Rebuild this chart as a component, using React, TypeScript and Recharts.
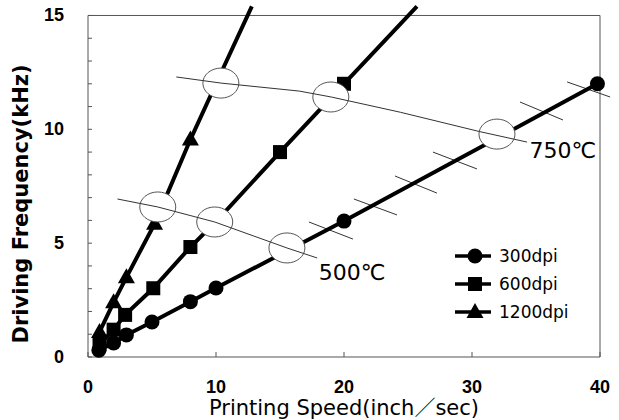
import React from 'react';
import {
  ComposedChart,
  Scatter,
  XAxis,
  YAxis,
  ReferenceArea,
  ReferenceLine,
  Legend,
} from 'recharts';

// ---- data ----
const speed300 = [0.85, 2, 3, 5, 8, 10, 20, 39.8];
const freq300 = [0.3, 0.62, 0.97, 1.54, 2.43, 3.03, 5.97, 12.0];

const speed600 = [0.9, 2, 2.9, 5.1, 8, 10, 15, 20, 25.7];
const freq600 = [0.55, 1.2, 1.85, 3.02, 4.83, 5.95, 9.0, 12.0, 15.4];

const speed1200 = [0.9, 2, 3, 5.2, 8, 10, 12.8];
const freq1200 = [1.1, 2.4, 3.5, 5.85, 9.55, 12.0, 15.4];

const seriesNames = ['300dpi', '600dpi', '1200dpi'];

const xTicks = [0, 10, 20, 30, 40];
const yTicks = [0, 1, 2, 3, 4, 5, 6, 7, 8, 9, 10, 11, 12, 13, 14, 15];
const yLabelTicks = [0, 5, 10, 15];

// isotherm curves
const iso500Speed = [2.3, 5.45, 9.9, 15.54, 17.9];
const iso500Freq = [6.94, 6.59, 5.93, 4.79, 4.35];
const iso750Speed = [6.9, 10.4, 16.5, 19.0, 24.4, 30.6, 34.3];
const iso750Freq = [12.3, 12.03, 11.68, 11.42, 10.75, 9.9, 9.44];

// ellipse marks (intersection highlights)
const ringSpeed = [5.45, 9.9, 15.54, 10.38, 18.97, 31.95];
const ringFreq = [6.59, 5.93, 4.79, 12.03, 11.42, 9.79];

// short hatch segments crossing the 300dpi line
const hatchX1 = [17.26, 20.77, 23.98, 26.95, 33.75, 37.43];
const hatchY1 = [5.93, 6.94, 7.95, 9.0, 11.2, 12.08];
const hatchX2 = [20.7, 24.14, 27.26, 30.39, 37.11, 40.79];
const hatchY2 = [5.18, 6.24, 7.2, 8.26, 10.41, 11.42];

// temperature labels
const tempLabels = ['500℃', '750℃'];
const tempLabelSpeed = [18.02, 34.5];
const tempLabelFreq = [3.73, 9.09];

const xTitle = 'Printing Speed(inch／sec)';
const yTitle = 'Driving Frequency(kHz)';

// ---- helpers ----
const pts = (xs: number[], ys: number[]) => xs.map((x, i) => ({ x, y: ys[i] }));

const data300 = pts(speed300, freq300);
const data600 = pts(speed600, freq600);
const data1200 = pts(speed1200, freq1200);
const iso500 = pts(iso500Speed, iso500Freq);
const iso750 = pts(iso750Speed, iso750Freq);
const rings = pts(ringSpeed, ringFreq);
const labelsData = tempLabels.map((t, i) => ({ x: tempLabelSpeed[i], y: tempLabelFreq[i], label: t }));

const SANS = '"DejaVu Sans", "Noto Sans CJK JP", sans-serif';
const TICKFONT = '"Liberation Sans", Arial, sans-serif';

type Kind = 'circle' | 'square' | 'triangle';
const seriesKinds: Kind[] = ['circle', 'square', 'triangle'];
const seriesData = [data300, data600, data1200];

const Marker = ({ kind, cx, cy }: { kind: Kind; cx: number; cy: number }) => {
  if (kind === 'circle') return <circle cx={cx} cy={cy} r={7.5} fill="#000" />;
  if (kind === 'square') return <rect x={cx - 7} y={cy - 7} width={14} height={14} fill="#000" />;
  return <polygon points={`${cx},${cy - 9} ${cx - 8.5},${cy + 6} ${cx + 8.5},${cy + 6}`} fill="#000" />;
};

const makeShape = (kind: Kind) => (props: any) => {
  const { cx, cy, payload } = props;
  if (cx == null || cy == null || (payload && payload.y > 15)) return <g />;
  return <Marker kind={kind} cx={cx} cy={cy} />;
};

const XTick = (props: any) => {
  const { x, y, payload } = props;
  return (
    <g>
      <line x1={x} x2={x} y1={y} y2={y - 5} stroke="#555" strokeWidth={1} />
      <text
        x={x}
        y={y + 30}
        textAnchor="middle"
        dominantBaseline="central"
        fontFamily={TICKFONT}
        fontWeight="bold"
        fontSize={18}
        fill="#000"
      >
        {payload.value}
      </text>
    </g>
  );
};

const YTick = (props: any) => {
  const { x, y, payload } = props;
  const show = yLabelTicks.includes(payload.value);
  return (
    <g>
      <line x1={x} x2={x + 4} y1={y} y2={y} stroke="#555" strokeWidth={1} />
      {show && (
        <text
          x={x - 24}
          y={y}
          textAnchor="end"
          dominantBaseline="central"
          fontFamily={TICKFONT}
          fontWeight="bold"
          fontSize={18}
          fill="#000"
        >
          {payload.value}
        </text>
      )}
    </g>
  );
};

const RingShape = (props: any) => {
  const { cx, cy } = props;
  return <ellipse cx={cx} cy={cy} rx={18} ry={15} fill="#fff" stroke="#555" strokeWidth={1} />;
};

const NoShape = () => <g />;

const TextShape = (props: any) => {
  const { cx, cy, payload } = props;
  return (
    <text x={cx} y={cy} dominantBaseline="central" fontFamily={SANS} fontSize={22} fill="#000">
      {payload.label}
    </text>
  );
};

const renderLegend = () => (
  <div style={{ fontFamily: SANS, fontSize: 17, color: '#000' }}>
    {seriesNames.map((n, i) => (
      <div key={n} style={{ display: 'flex', alignItems: 'center', height: 28 }}>
        <svg width={36} height={28}>
          <line x1={0} x2={36} y1={14} y2={14} stroke="#000" strokeWidth={3.5} />
          <Marker kind={seriesKinds[i]} cx={20} cy={14} />
        </svg>
        <span style={{ marginLeft: 8 }}>{n}</span>
      </div>
    ))}
  </div>
);

const XTitle = (props: any) => {
  const vb = props.viewBox || {};
  return (
    <text
      x={vb.x + vb.width / 2}
      y={408}
      textAnchor="middle"
      dominantBaseline="central"
      fontFamily={SANS}
      fontSize={21}
      fill="#000"
    >
      {xTitle}
    </text>
  );
};

const YTitle = () => (
  <text
    x={21}
    y={204}
    transform="rotate(-90 21 204)"
    textAnchor="middle"
    dominantBaseline="central"
    fontFamily={SANS}
    fontWeight="bold"
    fontSize={21}
    fill="#000"
  >
    {yTitle}
  </text>
);

export default function App() {
  return (
    <div style={{ position: 'absolute', left: 0, top: 0, width: 619, height: 420, background: '#fff' }}>
      <ComposedChart width={619} height={420} margin={{ top: 0, right: 19, bottom: 0, left: 0 }}>
        <XAxis
          type="number"
          dataKey="x"
          domain={[0, 40]}
          ticks={xTicks}
          interval={0}
          axisLine={false}
          tickLine={false}
          tickSize={0}
          tickMargin={0}
          height={63}
          tick={<XTick />}
          label={{ content: <XTitle /> }}
        />
        <YAxis
          type="number"
          dataKey="y"
          domain={[0, 15.68]}
          ticks={yTicks}
          interval={0}
          axisLine={false}
          tickLine={false}
          tickSize={0}
          tickMargin={0}
          width={88}
          tick={<YTick />}
          label={{ content: <YTitle /> }}
        />
        <ReferenceArea x1={0} x2={40} y1={0} y2={15} fill="none" stroke="#555" strokeWidth={1} ifOverflow="visible" />
        {seriesNames.map((n, i) => (
          <Scatter
            key={n}
            name={n}
            data={seriesData[i]}
            dataKey="y"
            line={{ stroke: '#000', strokeWidth: 4 }}
            shape={makeShape(seriesKinds[i])}
            isAnimationActive={false}
          />
        ))}
        {hatchX1.map((x1, i) => (
          <ReferenceLine
            key={`h${i}`}
            segment={[
              { x: x1, y: hatchY1[i] },
              { x: hatchX2[i], y: hatchY2[i] },
            ]}
            stroke="#333"
            strokeWidth={1}
            ifOverflow="visible"
          />
        ))}
        <Scatter name="rings" data={rings} dataKey="y" shape={<RingShape />} legendType="none" isAnimationActive={false} />
        <Scatter
          name="iso500"
          data={iso500}
          dataKey="y"
          line={{ stroke: '#333', strokeWidth: 1 }}
          shape={<NoShape />}
          legendType="none"
          isAnimationActive={false}
        />
        <Scatter
          name="iso750"
          data={iso750}
          dataKey="y"
          line={{ stroke: '#333', strokeWidth: 1 }}
          shape={<NoShape />}
          legendType="none"
          isAnimationActive={false}
        />
        <Scatter name="labels" data={labelsData} dataKey="y" shape={<TextShape />} legendType="none" isAnimationActive={false} />
        <Legend
          content={renderLegend}
          layout="vertical"
          align="center"
          verticalAlign="middle"
          wrapperStyle={{ left: 455, top: 242, width: 140 }}
        />
      </ComposedChart>
    </div>
  );
}
